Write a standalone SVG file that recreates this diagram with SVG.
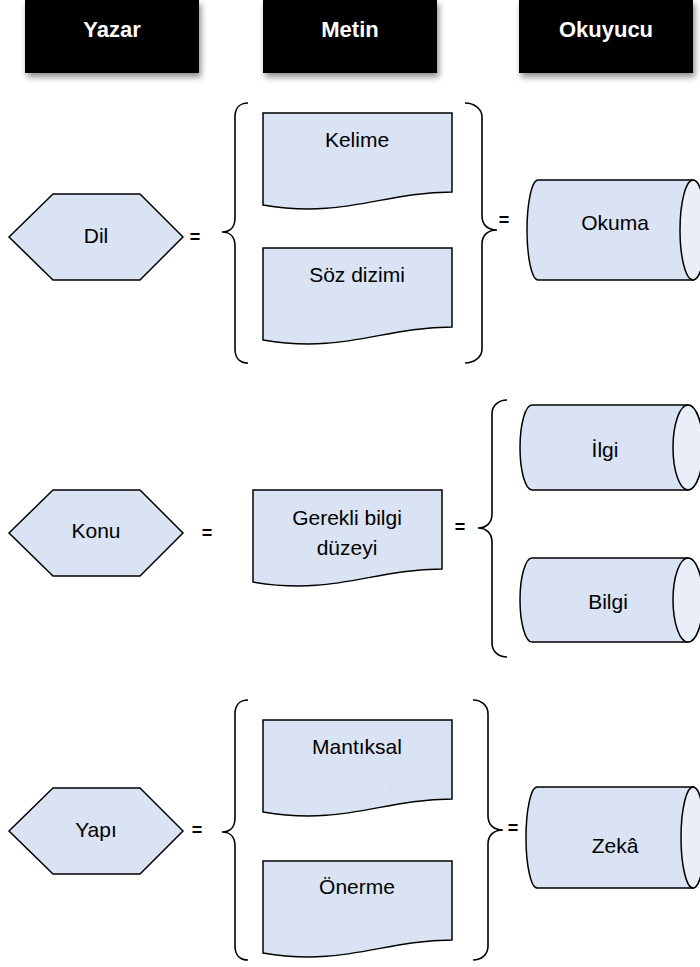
<svg xmlns="http://www.w3.org/2000/svg" width="700" height="967" viewBox="0 0 700 967">
<style>
.hdr{fill:#000}
.hdrt{font-family:"Liberation Sans",Arial,sans-serif;font-weight:bold;font-size:22px;fill:#fff;text-anchor:middle}
.shape{fill:#dae3f3;stroke:#000;stroke-width:1.5}
.face{fill:#e9eef8;stroke:#000;stroke-width:1.5}
.lbl{font-family:"Liberation Sans",Arial,sans-serif;font-size:21px;fill:#000;text-anchor:middle}
.brace{fill:none;stroke:#000;stroke-width:1.6}
.eq{font-family:"Liberation Sans",Arial,sans-serif;font-weight:bold;font-size:18px;fill:#000;text-anchor:middle}
</style>
<defs>
<filter id="sh" x="-10%" y="-10%" width="125%" height="140%">
<feDropShadow dx="2" dy="4" stdDeviation="3" flood-color="#000" flood-opacity="0.45"/>
</filter>
<polygon id="hex" points="0,0 44,-43 131,-43 174,0 131,43 44,43"/>
<path id="doc" d="M0,0 H189 V79 C120,79 80,106 0,92 Z"/>
</defs>
<rect width="700" height="967" fill="#fff"/>

<g id="hdr-yazar"><rect class="hdr" x="25" y="0" width="174" height="73" filter="url(#sh)"/><text class="hdrt" x="112" y="37">Yazar</text></g>
<g id="hdr-metin"><rect class="hdr" x="263" y="0" width="174" height="73" filter="url(#sh)"/><text class="hdrt" x="350" y="37">Metin</text></g>
<g id="hdr-okuyucu"><rect class="hdr" x="519" y="0" width="174" height="73" filter="url(#sh)"/><text class="hdrt" x="606" y="37">Okuyucu</text></g>

<g id="dil"><use href="#hex" class="shape" x="9" y="237"/><text class="lbl" x="96" y="243">Dil</text></g>
<g id="konu"><use href="#hex" class="shape" x="9" y="533"/><text class="lbl" x="96" y="538">Konu</text></g>
<g id="yapi"><use href="#hex" class="shape" x="9" y="831"/><text class="lbl" x="96" y="837">Yapı</text></g>

<g id="kelime"><use href="#doc" class="shape" x="263" y="113"/><text class="lbl" x="357" y="147">Kelime</text></g>
<g id="soz-dizimi"><use href="#doc" class="shape" x="263" y="248"/><text class="lbl" x="357" y="282">Söz dizimi</text></g>
<g id="gerekli-bilgi"><use href="#doc" class="shape" x="253" y="490"/><text class="lbl" x="347" y="525">Gerekli bilgi</text><text class="lbl" x="347" y="555">düzeyi</text></g>
<g id="mantiksal"><use href="#doc" class="shape" x="263" y="720"/><text class="lbl" x="357" y="754">Mantıksal</text>
<circle cx="368" cy="789" r="0.8" fill="#c4c9d2"/><circle cx="379" cy="789" r="0.8" fill="#c4c9d2"/><circle cx="391" cy="789" r="0.8" fill="#c4c9d2"/></g>
<g id="onerme"><use href="#doc" class="shape" x="263" y="861"/><text class="lbl" x="357" y="894">Önerme</text></g>

<g id="okuma"><path class="shape" d="M538,180 H693 A13,50 0 0 1 693,280 H538 A11,50 0 0 1 538,180 Z"/><ellipse class="face" cx="693" cy="230" rx="13" ry="50"/><text class="lbl" x="615" y="230">Okuma</text></g>
<g id="ilgi"><path class="shape" d="M532,405 H688 A15,42.5 0 0 1 688,490 H532 A12,42.5 0 0 1 532,405 Z"/><ellipse class="face" cx="688" cy="447.5" rx="15" ry="42.5"/><text class="lbl" x="605" y="457">İlgi</text></g>
<g id="bilgi"><path class="shape" d="M532,558 H688 A15,42 0 0 1 688,642 H532 A12,42 0 0 1 532,558 Z"/><ellipse class="face" cx="688" cy="600" rx="15" ry="42"/><text class="lbl" x="608" y="609">Bilgi</text></g>
<g id="zeka"><path class="shape" d="M537,787 H693 A12,50.5 0 0 1 693,888 H537 A11,50.5 0 0 1 537,787 Z"/><ellipse class="face" cx="693" cy="837.5" rx="12" ry="50.5"/><text class="lbl" x="615" y="853">Zekâ</text></g>

<g id="connectors">
<path class="brace" d="M248,103 C240,103 235,108 235,117 V218 C235,227 230,232 222,232 C230,232 235,237 235,246 V349 C235,358 240,363 248,363"/>
<path class="brace" d="M465,103 C473,103 482,108 482,117 V216 C482,225 488,230 497,230 C488,230 482,235 482,244 V349 C482,358 473,363 465,363"/>
<path class="brace" d="M507,400 C499,400 492,405 492,414 V514 C492,523 486,528 478,528 C486,528 492,533 492,542 V643 C492,652 499,657 507,657"/>
<path class="brace" d="M248,700 C240,700 235,705 235,714 V818 C235,827 230,832 222,832 C230,832 235,837 235,846 V946 C235,955 240,960 248,960"/>
<path class="brace" d="M473,700 C481,700 488,705 488,714 V816 C488,825 494,830 503,830 C494,830 488,835 488,844 V946 C488,955 481,960 473,960"/>
<text class="eq" x="195" y="243">=</text>
<text class="eq" x="504" y="226">=</text>
<text class="eq" x="207" y="539">=</text>
<text class="eq" x="460" y="533">=</text>
<text class="eq" x="197" y="836">=</text>
<text class="eq" x="513" y="834">=</text>
</g>
</svg>
